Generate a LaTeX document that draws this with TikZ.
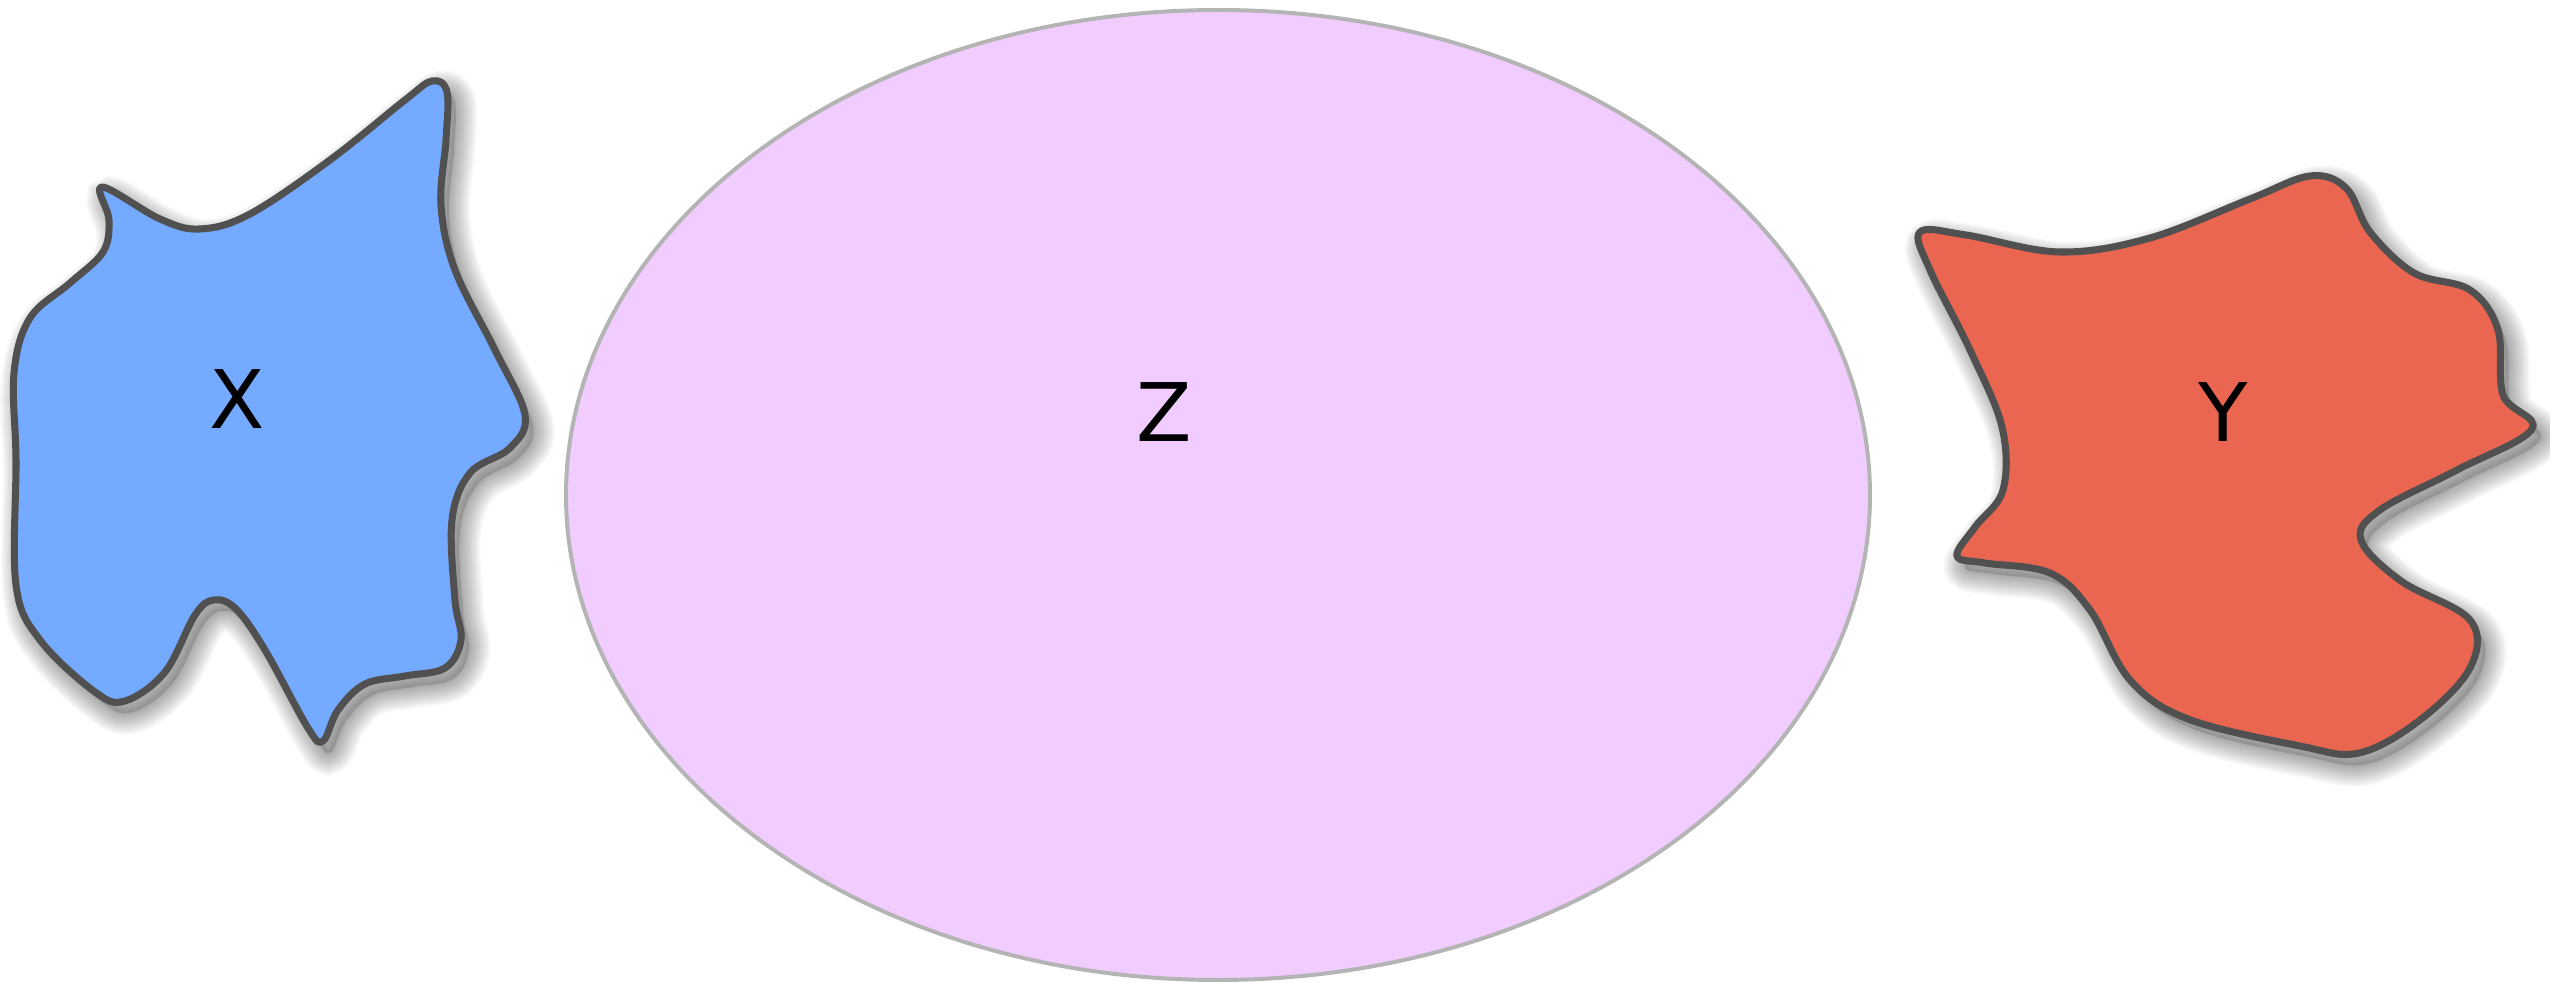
\documentclass[tikz,border=0pt]{standalone}
\usepackage{fontspec}
\setmainfont{DejaVu Sans}
\definecolor{zfill}{RGB}{240,204,255}
\definecolor{zline}{RGB}{180,180,180}
\definecolor{xfill}{RGB}{116,170,255}
\definecolor{yfill}{RGB}{235,102,80}
\definecolor{blobline}{RGB}{80,80,80}
\tikzset{
  shadowlayer/.style={preaction={draw=black,opacity=0.03,line width=#1pt,transform canvas={shift={(8,11)}}}},
  blobshadow/.style={
    preaction={fill=black,opacity=0.15,transform canvas={shift={(8,11)}}},
    shadowlayer/.list={1,2,3,4,5,6,7,8,9,10,11,12}},
  blob/.style={blobshadow,draw=blobline,line width=2pt,line join=round},
  setname/.style={font=\fontsize{23}{27}\selectfont,text=black}
}
\begin{document}
\begin{tikzpicture}[x=0.01cm,y=-0.01cm]
\useasboundingbox (0,0) rectangle (2550,983);

\draw[fill=zfill,draw=zline,line width=1.13pt] (1218,495) ellipse [x radius=652,y radius=485];
\node[setname] (zname) at (1164,412) {Z};

\draw[blob,fill=xfill] plot[smooth cycle,tension=0.6] coordinates {
  (102,187) (160,219) (200,229) (250,214) (330,160) (405,100) (432,81)
  (447,92) (446,140) (441,205) (455,270) (495,350) (525,415) (510,448)
  (470,473) (452,520) (455,600) (461,640) (445,668) (405,676) (365,684)
  (338,710) (323,741) (308,728) (265,650) (236,609) (214,600) (195,615)
  (165,672) (125,701) (95,692) (40,640) (16,585) (16,460) (14,373)
  (30,318) (70,283) (103,252) (109,220)};
\node[setname] (xname) at (237,399) {X};

\draw[blob,fill=yfill] plot[smooth cycle,tension=0.6] coordinates {
  (1920,232) (1966,235) (2060,252) (2150,238) (2250,199) (2310,176)
  (2346,188) (2370,232) (2414,273) (2470,290) (2498,330) (2503,395)
  (2532,429) (2457,470) (2380,510) (2361,540) (2401,581) (2470,620)
  (2470,668) (2420,720) (2359,753) (2300,746) (2188,719) (2130,680)
  (2090,610) (2050,573) (1985,563) (1957,556) (1975,527) (2003,490)
  (2002,427) (1970,350) (1930,270)};
\node[setname] (yname) at (2223,412) {Y};
\end{tikzpicture}
\end{document}
